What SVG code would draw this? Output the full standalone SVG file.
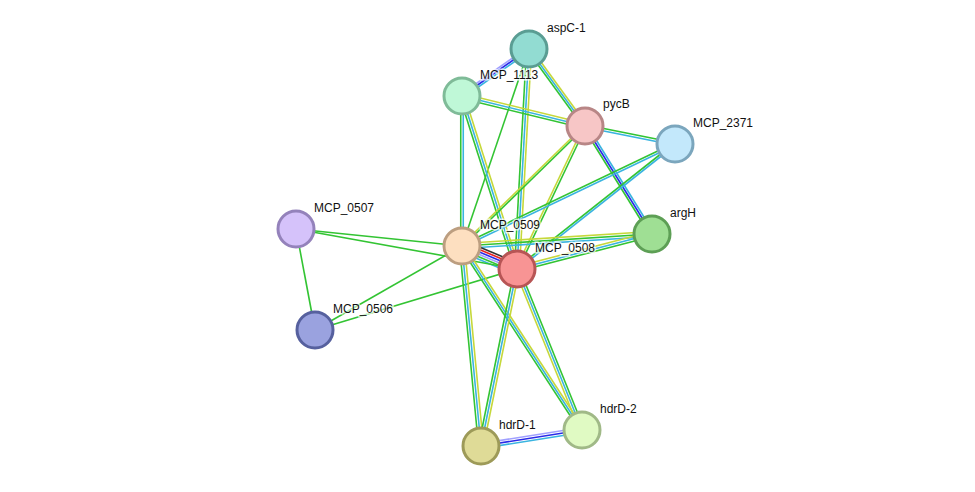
<svg xmlns="http://www.w3.org/2000/svg" width="975" height="492" viewBox="0 0 975 492">
<style>
line{stroke-width:1.6;fill:none}
.G{stroke:#33c433}.Y{stroke:#c6d83a}.C{stroke:#3ab4e0}.B{stroke:#2a2ae8}.L{stroke:#a0a0ff}.R{stroke:#e82020}.K{stroke:#333}
circle{stroke-width:3}
text{font-family:"Liberation Sans",Arial,sans-serif;font-size:12px;fill:#111;paint-order:stroke;stroke:#fff;stroke-width:3px;stroke-opacity:0.7}
</style>
<rect width="975" height="492" fill="#fff"/>
<g id="connectors">
<line class="L" x1="529" y1="46.5" x2="462" y2="93.5"/><line class="B" x1="529" y1="49" x2="462" y2="96"/><line class="C" x1="529" y1="51.5" x2="462" y2="98.5"/>
<line class="G" x1="526.5" y1="49" x2="582.5" y2="126"/><line class="C" x1="529" y1="49" x2="585" y2="126"/><line class="Y" x1="531.5" y1="49" x2="587.5" y2="126"/>
<line class="G" x1="529" y1="49" x2="462" y2="246"/>
<line class="G" x1="526.5" y1="49" x2="514.5" y2="269"/><line class="C" x1="529" y1="49" x2="517" y2="269"/><line class="Y" x1="531.5" y1="49" x2="519.5" y2="269"/>
<line class="Y" x1="462" y1="93.5" x2="585" y2="123.5"/><line class="C" x1="462" y1="96" x2="585" y2="126"/><line class="G" x1="462" y1="98.5" x2="585" y2="128.5"/>
<line class="G" x1="460.75" y1="96" x2="460.75" y2="246"/><line class="C" x1="463.25" y1="96" x2="463.25" y2="246"/>
<line class="G" x1="459.5" y1="96" x2="514.5" y2="269"/><line class="C" x1="462" y1="96" x2="517" y2="269"/><line class="Y" x1="464.5" y1="96" x2="519.5" y2="269"/>
<line class="G" x1="585" y1="124.75" x2="675" y2="142.75"/><line class="C" x1="585" y1="127.25" x2="675" y2="145.25"/>
<line class="G" x1="582.5" y1="126" x2="649.5" y2="234"/><line class="B" x1="585" y1="126" x2="652" y2="234"/><line class="C" x1="587.5" y1="126" x2="654.5" y2="234"/>
<line class="Y" x1="583.75" y1="126" x2="460.75" y2="246"/><line class="G" x1="586.25" y1="126" x2="463.25" y2="246"/>
<line class="Y" x1="583.75" y1="126" x2="515.75" y2="269"/><line class="G" x1="586.25" y1="126" x2="518.25" y2="269"/>
<line class="G" x1="675" y1="142.75" x2="462" y2="244.75"/><line class="C" x1="675" y1="145.25" x2="462" y2="247.25"/>
<line class="G" x1="675" y1="142.75" x2="517" y2="267.75"/><line class="C" x1="675" y1="145.25" x2="517" y2="270.25"/>
<line class="Y" x1="652" y1="231.5" x2="462" y2="243.5"/><line class="G" x1="652" y1="234" x2="462" y2="246"/><line class="C" x1="652" y1="236.5" x2="462" y2="248.5"/>
<line class="Y" x1="652" y1="231.5" x2="517" y2="266.5"/><line class="C" x1="652" y1="234" x2="517" y2="269"/><line class="G" x1="652" y1="236.5" x2="517" y2="271.5"/>
<line class="K" x1="462" y1="239.75" x2="517" y2="262.75"/><line class="R" x1="462" y1="242.25" x2="517" y2="265.25"/><line class="B" x1="462" y1="244.75" x2="517" y2="267.75"/><line class="L" x1="462" y1="247.25" x2="517" y2="270.25"/><line class="G" x1="462" y1="249.75" x2="517" y2="272.75"/><line class="C" x1="462" y1="252.25" x2="517" y2="275.25"/>
<line class="G" x1="296" y1="229" x2="462" y2="246"/>
<line class="G" x1="296" y1="229" x2="517" y2="269"/>
<line class="G" x1="296" y1="229" x2="315" y2="330"/>
<line class="G" x1="315" y1="330" x2="462" y2="246"/>
<line class="G" x1="315" y1="330" x2="517" y2="269"/>
<line class="G" x1="459.5" y1="246" x2="478.5" y2="446"/><line class="C" x1="462" y1="246" x2="481" y2="446"/><line class="Y" x1="464.5" y1="246" x2="483.5" y2="446"/>
<line class="G" x1="459.5" y1="246" x2="579.5" y2="430"/><line class="C" x1="462" y1="246" x2="582" y2="430"/><line class="Y" x1="464.5" y1="246" x2="584.5" y2="430"/>
<line class="G" x1="514.5" y1="269" x2="478.5" y2="446"/><line class="C" x1="517" y1="269" x2="481" y2="446"/><line class="Y" x1="519.5" y1="269" x2="483.5" y2="446"/>
<line class="Y" x1="514.5" y1="269" x2="579.5" y2="430"/><line class="C" x1="517" y1="269" x2="582" y2="430"/><line class="G" x1="519.5" y1="269" x2="584.5" y2="430"/>
<line class="L" x1="481" y1="443.5" x2="582" y2="427.5"/><line class="B" x1="481" y1="446" x2="582" y2="430"/><line class="C" x1="481" y1="448.5" x2="582" y2="432.5"/>
</g>
<g id="aspC-1"><circle cx="529" cy="49" r="18" fill="#92dcd2" stroke="#5a9d93"/><text x="547" y="32">aspC-1</text></g>
<g id="MCP_1113"><circle cx="462" cy="96" r="18" fill="#bff8d7" stroke="#7fbb98"/><text x="480" y="79">MCP_1113</text></g>
<g id="pycB"><circle cx="585" cy="126" r="18" fill="#f7c6c6" stroke="#b88686"/><text x="603" y="108">pycB</text></g>
<g id="MCP_2371"><circle cx="675" cy="144" r="18" fill="#c3e8fb" stroke="#7ba6bd"/><text x="693" y="127">MCP_2371</text></g>
<g id="argH"><circle cx="652" cy="234" r="18" fill="#9fdf94" stroke="#5d9f55"/><text x="670" y="217">argH</text></g>
<g id="MCP_0507"><circle cx="296" cy="229" r="18" fill="#d5c2fa" stroke="#9482bb"/><text x="314" y="212">MCP_0507</text></g>
<g id="MCP_0506"><circle cx="315" cy="330" r="18" fill="#9aa2df" stroke="#56609e"/><text x="333" y="313">MCP_0506</text></g>
<g id="hdrD-1"><circle cx="481" cy="446" r="18" fill="#dfdb97" stroke="#9d9a58"/><text x="499" y="429">hdrD-1</text></g>
<g id="hdrD-2"><circle cx="582" cy="430" r="18" fill="#e0fac3" stroke="#a0b987"/><text x="600" y="413">hdrD-2</text></g>
<g id="MCP_0509"><circle cx="462" cy="246" r="18" fill="#fddfc0" stroke="#bc9e80"/><text x="480" y="229">MCP_0509</text></g>
<g id="MCP_0508"><circle cx="517" cy="269" r="18" fill="#f89494" stroke="#b75555"/><text x="535" y="252">MCP_0508</text></g>
</svg>
